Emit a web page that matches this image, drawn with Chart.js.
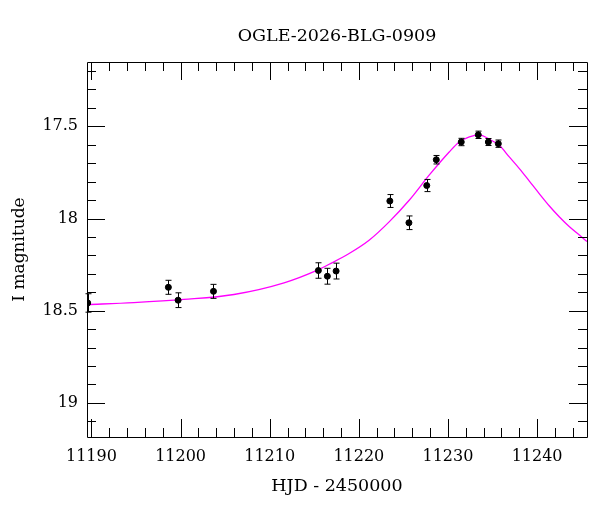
<!DOCTYPE html>
<html>
<head>
<meta charset="utf-8">
<script src="https://cdn.jsdelivr.net/npm/chart.js@4"></script>
<style>
  html, body { margin: 0; padding: 0; background: #fff; }
  #wrap { width: 600px; height: 512px; }
</style>
</head>
<body>
<div id="wrap"><canvas id="lc"></canvas></div>
<script>
// photometry (HJD - 2450000, I mag, error)
var hjd = [11189.58, 11198.63, 11199.72, 11203.69, 11215.46, 11216.47, 11217.45,
           11223.48, 11225.62, 11227.62, 11228.69, 11231.49, 11233.40, 11234.53, 11235.65];
var mag = [18.458, 18.373, 18.443, 18.395, 18.282, 18.313, 18.285,
           17.905, 18.023, 17.821, 17.681, 17.585, 17.546, 17.585, 17.594];
var magErr = [0.050, 0.038, 0.040, 0.038, 0.042, 0.043, 0.043,
              0.035, 0.037, 0.033, 0.023, 0.020, 0.020, 0.019, 0.020];

// model curve
var fitHjd = [11189.4, 11194.75, 11200.37, 11205.99, 11211.61, 11215.35, 11216.67,
              11218.91, 11221.15, 11223.40, 11225.65, 11227.89, 11230.14, 11231.27,
              11232.40, 11233.52, 11234.64, 11235.76, 11236.88, 11238.01, 11239.13,
              11240.26, 11241.38, 11242.51, 11243.63, 11244.75, 11245.6];
var fitMag = [18.467, 18.456, 18.439, 18.412, 18.349, 18.280, 18.248,
              18.190, 18.118, 18.018, 17.901, 17.765, 17.639, 17.585,
              17.557, 17.546, 17.570, 17.603, 17.666, 17.729, 17.797,
              17.866, 17.932, 17.992, 18.045, 18.090, 18.125];

var xTicks = [11190, 11200, 11210, 11220, 11230, 11240];
var yTicks = [17.5, 18, 18.5, 19];

var serif = "'DejaVu Serif', 'Liberation Serif', serif";

// frame, inward ticks on every side, error bars
var frame = {
    id: 'frame',
    afterDatasetsDraw: function(chart) {
        var ctx = chart.ctx, a = chart.chartArea;
        var xs = chart.scales.x, ys = chart.scales.y;
        ctx.save();
        ctx.strokeStyle = '#000';
        ctx.lineWidth = 1;

        // error bars
        for (var i = 0; i < hjd.length; i++) {
            var px = Math.round(xs.getPixelForValue(hjd[i])) + 0.5;
            var y1 = ys.getPixelForValue(mag[i] - magErr[i]);
            var y2 = ys.getPixelForValue(mag[i] + magErr[i]);
            ctx.beginPath();
            ctx.moveTo(px, y1); ctx.lineTo(px, y2);
            ctx.moveTo(px - 3, y1); ctx.lineTo(px + 3, y1);
            ctx.moveTo(px - 3, y2); ctx.lineTo(px + 3, y2);
            ctx.stroke();
        }

        ctx.beginPath();
        ctx.rect(Math.round(a.left) + 0.5, Math.round(a.top) + 0.5,
                 Math.round(a.right - a.left), Math.round(a.bottom - a.top));
        ctx.stroke();

        ctx.beginPath();
        var v, p, len;
        for (v = 11190; v <= 11245; v += 2) {
            p = Math.round(xs.getPixelForValue(v)) + 0.5;
            if (p < a.left || p > a.right) continue;
            len = xTicks.indexOf(v) >= 0 ? 18 : 9;
            ctx.moveTo(p, a.bottom); ctx.lineTo(p, a.bottom - len);
            ctx.moveTo(p, a.top); ctx.lineTo(p, a.top + len);
        }
        for (var k = 172; k <= 191; k++) {
            v = k / 10;
            p = Math.round(ys.getPixelForValue(v)) + 0.5;
            if (p < a.top || p > a.bottom) continue;
            len = (k % 5 === 0) ? 18 : 9;
            ctx.moveTo(a.left, p); ctx.lineTo(a.left + len, p);
            ctx.moveTo(a.right, p); ctx.lineTo(a.right - len, p);
        }
        ctx.stroke();
        ctx.restore();
    }
};

new Chart('lc', {
    type: 'scatter',
    data: {
        datasets: [{
            label: 'data',
            data: hjd.map(function(t, i) { return {x: t, y: mag[i]}; }),
            backgroundColor: '#000',
            borderColor: '#000',
            pointRadius: 3,
            pointHoverRadius: 3,
            order: 1
        }, {
            label: 'model',
            data: fitHjd.map(function(t, i) { return {x: t, y: fitMag[i]}; }),
            showLine: true,
            borderColor: '#ff00ff',
            borderWidth: 1.3,
            pointRadius: 0,
            cubicInterpolationMode: 'monotone',
            order: 2
        }]
    },
    options: {
        responsive: true,
        maintainAspectRatio: false,
        animation: false,
        layout: { padding: { left: 0, right: 13, top: 0, bottom: 0 } },
        scales: {
            x: {
                type: 'linear',
                min: 11189.5,
                max: 11245.6,
                afterBuildTicks: function(s) { s.ticks = xTicks.map(function(v) { return {value: v}; }); },
                afterFit: function(s) { s.height = 75; },
                grid: { display: false, drawTicks: false },
                border: { display: false },
                ticks: {
                    padding: 10,
                    color: '#000',
                    maxRotation: 0,
                    font: { family: serif, size: 16 },
                    callback: function(v) { return String(v); }
                },
                title: {
                    display: true,
                    text: 'HJD - 2450000',
                    color: '#000',
                    font: { family: serif, size: 17.5 },
                    padding: { top: 0, bottom: 15 }
                }
            },
            y: {
                type: 'linear',
                reverse: true,
                min: 17.151,
                max: 19.185,
                afterBuildTicks: function(s) { s.ticks = yTicks.map(function(v) { return {value: v}; }); },
                afterFit: function(s) { s.width = 87; },
                grid: { display: false, drawTicks: false },
                border: { display: false },
                ticks: {
                    padding: 9,
                    color: '#000',
                    font: { family: serif, size: 16 },
                    callback: function(v) { return String(v); }
                },
                title: {
                    display: true,
                    text: 'I magnitude',
                    color: '#000',
                    font: { family: serif, size: 17 },
                    padding: { top: 9, bottom: 0 }
                }
            }
        },
        plugins: {
            legend: { display: false },
            tooltip: { enabled: false },
            title: {
                display: true,
                fullSize: false,
                text: 'OGLE-2026-BLG-0909',
                color: '#000',
                font: { family: serif, size: 17.5, weight: 'normal' },
                padding: { top: 25.5, bottom: 15.5 }
            }
        }
    },
    plugins: [frame]
});
</script>
</body>
</html>
